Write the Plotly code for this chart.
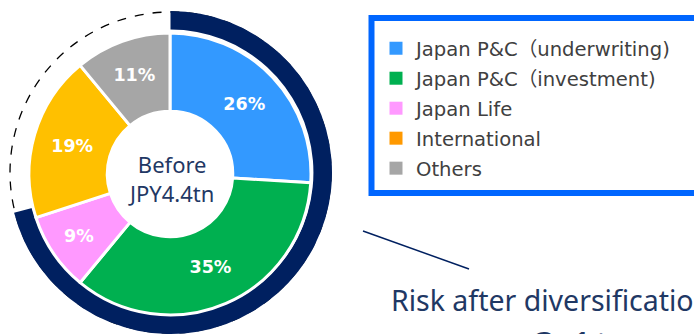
import plotly.graph_objects as go

W, H = 694, 334

# ---- data ----
categories = ["Japan P&C（underwriting)", "Japan P&C（investment)", "Japan Life", "International", "Others"]
shares = [26, 35, 9, 19, 11]
slice_colors = ["#3399ff", "#00b050", "#ff99ff", "#ffc000", "#a6a6a6"]
legend_colors = ["#3399ff", "#00b050", "#ff99ff", "#ff9900", "#a6a6a6"]
ring_values = [71, 29]          # covered share of outer ring vs. dashed remainder
center_text = ["Before", "JPY4.4tn"]
risk_text = "Risk after diversification"
risk_value = "2.1tn"

NAVY = "#002060"
TEXT_NAVY = "#1f3864"
FONT = "Noto Sans, Noto Sans CJK JP, sans-serif"
LEGEND_FONT = "DejaVu Sans, Noto Sans CJK JP, sans-serif"


def px_x(p):
    return p / W


def px_y(p):
    return 1 - p / H


fig = go.Figure()

# outer navy ring (partial)
fig.add_trace(go.Pie(
    values=ring_values,
    marker=dict(colors=[NAVY, "rgba(0,0,0,0)"], line=dict(width=0)),
    hole=0.885,
    sort=False,
    direction="clockwise",
    rotation=0,
    textinfo="none",
    hoverinfo="skip",
    showlegend=False,
    domain=dict(x=[px_x(9), px_x(332)], y=[0, px_y(11)]),
))

# main donut
fig.add_trace(go.Pie(
    labels=categories,
    values=shares,
    marker=dict(colors=slice_colors, line=dict(color="white", width=3)),
    hole=0.445,
    sort=False,
    direction="clockwise",
    rotation=0,
    textinfo="percent",
    texttemplate="%{percent:.0%}",
    textposition="inside",
    insidetextorientation="horizontal",
    textfont=dict(family="Verdana, DejaVu Sans, sans-serif", size=17.5, color="white", weight="bold"),
    showlegend=False,
    domain=dict(x=[px_x(29), px_x(311)], y=[px_y(315), px_y(33)]),
))

# legend entries
for name, col in zip(categories, legend_colors):
    fig.add_trace(go.Scatter(
        x=[None], y=[None], mode="markers", name=name, legendgroup=name,
        marker=dict(symbol="square", size=13, color=col, line=dict(width=0)),
        showlegend=True,
    ))

fig.update_layout(
    width=W, height=H,
    margin=dict(l=0, r=0, t=0, b=0),
    paper_bgcolor="white",
    plot_bgcolor="rgba(0,0,0,0)",
    xaxis=dict(visible=False, range=[0, 1]),
    yaxis=dict(visible=False, range=[0, 1]),
    legend=dict(
        x=px_x(376), y=px_y(29), xanchor="left", yanchor="top",
        font=dict(family=LEGEND_FONT, size=19.6, color="#404040"),
        bgcolor="rgba(0,0,0,0)", borderwidth=0,
        tracegroupgap=1.5, traceorder="grouped",
        itemclick=False, itemdoubleclick=False,
    ),
    shapes=[
        # dashed outline for the uncovered part of the outer ring
        dict(type="circle", xref="paper", yref="paper", layer="below",
             x0=px_x(10), x1=px_x(331), y0=px_y(333), y1=px_y(12),
             line=dict(color="black", width=1.3, dash="dash")),
        # legend frame
        dict(type="rect", xref="paper", yref="paper", layer="above",
             x0=px_x(371.5), x1=1.05, y0=px_y(193), y1=px_y(18),
             line=dict(color="#0066ff", width=6), fillcolor="rgba(0,0,0,0)"),
        # connector line
        dict(type="line", xref="paper", yref="paper",
             x0=px_x(363), y0=px_y(231), x1=px_x(469), y1=px_y(269),
             line=dict(color=NAVY, width=1.5)),
    ],
    annotations=[
        dict(text="<br>".join(center_text), xref="paper", yref="paper",
             x=px_x(170.5), y=px_y(178), xanchor="center", yanchor="middle",
             showarrow=False, align="center",
             font=dict(family=FONT, size=22, color=TEXT_NAVY)),
        dict(text=risk_text, xref="paper", yref="paper", x=px_x(389), y=px_y(300),
             xanchor="left", yanchor="middle", showarrow=False,
             font=dict(family=FONT, size=28.5, color=TEXT_NAVY)),
        dict(text=risk_value, xref="paper", yref="paper", x=px_x(530), y=px_y(346),
             xanchor="left", yanchor="middle", showarrow=False,
             font=dict(family=FONT, size=44, color=TEXT_NAVY)),
    ],
)

fig.write_html("out.html", config={"displayModeBar": False},
               post_script="document.body.style.margin='0px';")
